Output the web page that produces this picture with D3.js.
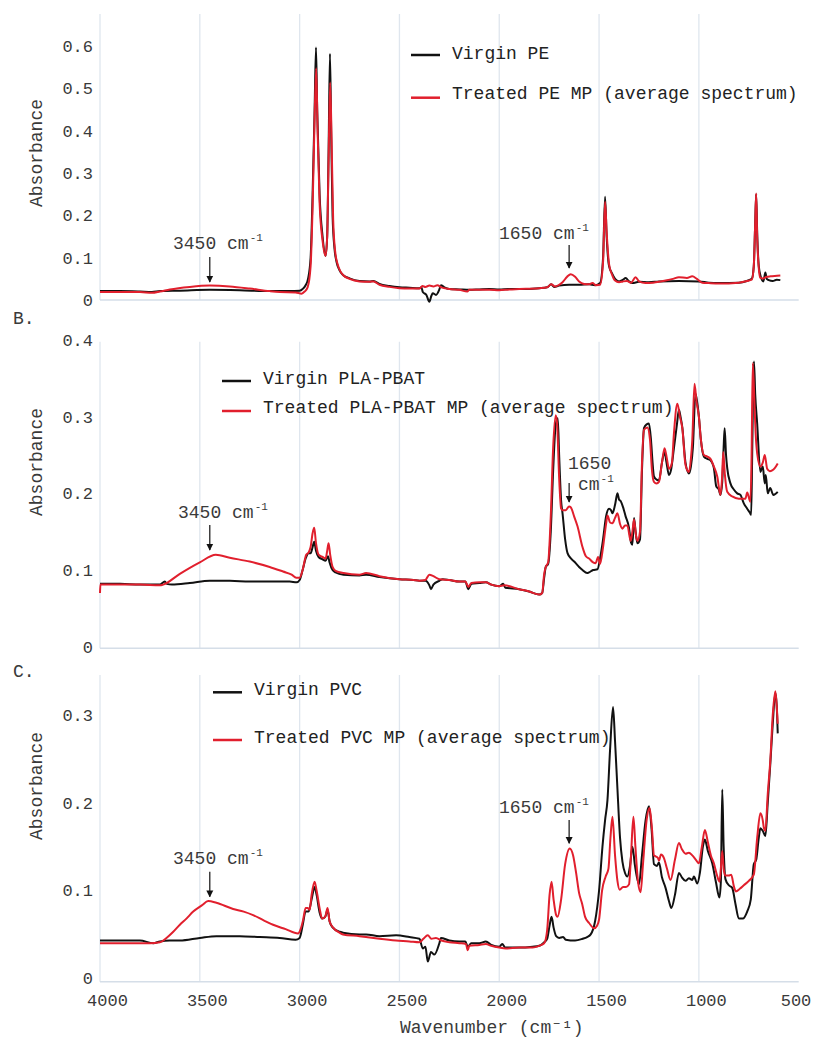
<!DOCTYPE html>
<html><head><meta charset="utf-8">
<script src="https://cdn.jsdelivr.net/npm/d3@7"></script>
<style>
html,body{margin:0;padding:0;background:#fff;}
svg{display:block;}
text{font-family:'Liberation Mono','Courier New',monospace;}
</style></head>
<body>
<svg id="chart" width="813" height="1039"></svg>
<script>
// ---------------- DATA ----------------
const xTicks = [4000, 3500, 3000, 2500, 2000, 1500, 1000, 500];
const gridTicks = [4000, 3500, 3000, 2500, 2000, 1500, 1000];
const yTicksA = [0, 0.1, 0.2, 0.3, 0.4, 0.5, 0.6];
const yTicksB = [0, 0.1, 0.2, 0.3, 0.4];
const yTicksC = [0, 0.1, 0.2, 0.3];

const legendA = ["Virgin PE", "Treated PE MP (average spectrum)"];
const legendB = ["Virgin PLA-PBAT", "Treated PLA-PBAT MP (average spectrum)"];
const legendC = ["Virgin PVC", "Treated PVC MP (average spectrum)"];

// annotated bands [wavenumber, absorbance at arrow tip]
const annotA = [[3450, 0.034], [1650, 0.061]];
const annotB = [[3450, 0.120], [1650, 0.183]];
const annotC = [[3450, 0.088], [1650, 0.148]];

// [wavenumber (cm-1), absorbance]
const peVirgin = [[4000,0.021],[3900,0.021],[3800,0.020],[3740,0.019],[3700,0.021],[3600,0.022],[3450,0.024],[3300,0.023],[3150,0.021],[3050,0.021],[3000,0.022],[2985,0.026],[2970,0.035],[2958,0.050],[2945,0.100],[2935,0.250],[2925,0.450],[2918,0.597],[2912,0.450],[2900,0.250],[2885,0.150],[2870,0.104],[2862,0.150],[2855,0.350],[2848,0.582],[2842,0.400],[2835,0.200],[2825,0.120],[2815,0.090],[2800,0.070],[2785,0.060],[2750,0.051],[2700,0.045],[2650,0.044],[2630,0.045],[2600,0.038],[2550,0.033],[2500,0.030],[2450,0.029],[2400,0.028],[2390,0.030],[2383,0.019],[2365,0.012],[2350,-0.004],[2340,0.010],[2333,0.016],[2317,0.012],[2300,0.025],[2292,0.035],[2275,0.030],[2250,0.026],[2200,0.025],[2150,0.024],[2100,0.025],[2050,0.026],[2000,0.025],[1950,0.026],[1900,0.026],[1800,0.028],[1760,0.030],[1740,0.037],[1725,0.031],[1700,0.034],[1650,0.036],[1600,0.036],[1550,0.037],[1520,0.035],[1495,0.040],[1480,0.100],[1470,0.244],[1462,0.150],[1450,0.080],[1435,0.063],[1420,0.050],[1400,0.044],[1380,0.048],[1367,0.052],[1350,0.044],[1333,0.040],[1300,0.043],[1250,0.042],[1200,0.044],[1100,0.045],[1000,0.044],[950,0.041],[900,0.040],[800,0.041],[760,0.045],[735,0.050],[725,0.080],[718,0.180],[713,0.250],[708,0.160],[700,0.080],[690,0.055],[677,0.044],[667,0.065],[660,0.050],[650,0.047],[630,0.045],[610,0.048],[592,0.047]];

const peTreated = [[4000,0.019],[3900,0.019],[3800,0.019],[3740,0.017],[3700,0.020],[3650,0.025],[3550,0.031],[3450,0.034],[3350,0.032],[3250,0.027],[3150,0.021],[3100,0.019],[3020,0.018],[2990,0.015],[2975,0.020],[2960,0.030],[2945,0.080],[2935,0.220],[2925,0.430],[2917,0.548],[2910,0.400],[2900,0.230],[2885,0.140],[2870,0.104],[2862,0.150],[2855,0.330],[2847,0.514],[2840,0.380],[2832,0.190],[2822,0.115],[2810,0.085],[2795,0.067],[2780,0.058],[2750,0.050],[2700,0.044],[2650,0.043],[2630,0.044],[2600,0.036],[2550,0.031],[2500,0.028],[2450,0.027],[2400,0.027],[2385,0.033],[2370,0.031],[2350,0.034],[2330,0.032],[2310,0.035],[2290,0.030],[2250,0.026],[2200,0.024],[2160,0.020],[2150,0.024],[2100,0.024],[2050,0.024],[2000,0.023],[1950,0.025],[1900,0.026],[1800,0.028],[1760,0.030],[1740,0.037],[1720,0.032],[1700,0.036],[1683,0.042],[1660,0.055],[1642,0.061],[1620,0.055],[1600,0.044],[1575,0.038],[1550,0.037],[1533,0.040],[1515,0.035],[1495,0.036],[1480,0.090],[1470,0.232],[1462,0.160],[1450,0.085],[1435,0.060],[1420,0.046],[1400,0.042],[1380,0.044],[1360,0.045],[1340,0.041],[1317,0.054],[1300,0.044],[1267,0.040],[1230,0.041],[1200,0.043],[1167,0.046],[1130,0.050],[1100,0.054],[1060,0.052],[1033,0.056],[1010,0.050],[983,0.041],[950,0.040],[900,0.039],[800,0.041],[760,0.045],[735,0.048],[725,0.080],[718,0.180],[713,0.252],[708,0.150],[700,0.075],[693,0.053],[680,0.051],[660,0.055],[640,0.056],[620,0.057],[592,0.058]];

const plaVirgin = [[4000,0.082],[3900,0.082],[3800,0.081],[3700,0.081],[3675,0.085],[3665,0.082],[3640,0.081],[3550,0.083],[3450,0.086],[3350,0.086],[3250,0.085],[3150,0.085],[3050,0.085],[3015,0.084],[3000,0.087],[2985,0.100],[2970,0.115],[2955,0.122],[2945,0.122],[2935,0.130],[2927,0.137],[2918,0.125],[2905,0.117],[2885,0.114],[2870,0.112],[2858,0.118],[2850,0.110],[2835,0.100],[2820,0.097],[2780,0.094],[2700,0.093],[2667,0.094],[2600,0.091],[2500,0.088],[2430,0.087],[2400,0.086],[2370,0.086],[2350,0.080],[2342,0.075],[2330,0.081],[2300,0.086],[2283,0.088],[2250,0.087],[2200,0.085],[2170,0.085],[2155,0.075],[2140,0.082],[2100,0.083],[2067,0.084],[2040,0.081],[2000,0.079],[1980,0.082],[1970,0.077],[1900,0.075],[1850,0.072],[1800,0.068],[1785,0.070],[1775,0.090],[1767,0.104],[1755,0.108],[1742,0.150],[1730,0.230],[1717,0.290],[1707,0.298],[1700,0.250],[1690,0.190],[1683,0.174],[1670,0.140],[1658,0.122],[1640,0.115],[1617,0.109],[1600,0.104],[1583,0.100],[1560,0.096],[1550,0.097],[1530,0.100],[1508,0.101],[1495,0.115],[1480,0.140],[1465,0.170],[1450,0.180],[1440,0.178],[1433,0.174],[1420,0.185],[1408,0.200],[1400,0.192],[1392,0.190],[1380,0.182],[1367,0.170],[1350,0.155],[1340,0.136],[1333,0.133],[1325,0.168],[1317,0.150],[1308,0.135],[1295,0.140],[1285,0.230],[1275,0.285],[1262,0.290],[1250,0.291],[1240,0.270],[1232,0.240],[1225,0.222],[1212,0.218],[1200,0.217],[1185,0.240],[1172,0.254],[1162,0.240],[1150,0.224],[1140,0.230],[1125,0.259],[1110,0.290],[1100,0.309],[1092,0.300],[1083,0.286],[1067,0.240],[1050,0.226],[1040,0.235],[1030,0.260],[1017,0.330],[1008,0.318],[1000,0.300],[990,0.270],[975,0.248],[958,0.245],[942,0.243],[925,0.233],[913,0.209],[900,0.205],[892,0.198],[883,0.215],[876,0.260],[871,0.285],[864,0.250],[858,0.233],[842,0.213],[825,0.205],[808,0.200],[792,0.198],[775,0.187],[758,0.180],[745,0.175],[738,0.172],[733,0.250],[728,0.340],[724,0.372],[718,0.330],[708,0.291],[692,0.228],[680,0.235],[670,0.213],[665,0.224],[655,0.200],[643,0.207],[627,0.198],[605,0.202]];

const plaTreated = [[4000,0.070],[3998,0.081],[3900,0.081],[3800,0.081],[3700,0.080],[3683,0.081],[3600,0.095],[3500,0.110],[3420,0.120],[3350,0.116],[3250,0.111],[3150,0.104],[3083,0.098],[3040,0.094],[3017,0.090],[3000,0.090],[2985,0.100],[2967,0.120],[2955,0.123],[2945,0.130],[2935,0.148],[2927,0.155],[2918,0.135],[2905,0.120],[2885,0.117],[2870,0.115],[2862,0.125],[2855,0.135],[2847,0.120],[2835,0.104],[2820,0.099],[2780,0.096],[2700,0.094],[2667,0.096],[2600,0.092],[2500,0.088],[2430,0.087],[2400,0.086],[2370,0.087],[2350,0.094],[2330,0.092],[2300,0.088],[2250,0.087],[2200,0.085],[2170,0.085],[2155,0.078],[2140,0.083],[2100,0.084],[2067,0.084],[2040,0.081],[2000,0.079],[1975,0.080],[1900,0.075],[1850,0.072],[1800,0.068],[1785,0.070],[1775,0.095],[1767,0.104],[1755,0.110],[1742,0.170],[1730,0.260],[1717,0.302],[1710,0.290],[1700,0.220],[1690,0.180],[1683,0.178],[1667,0.178],[1650,0.183],[1642,0.182],[1625,0.170],[1608,0.157],[1583,0.130],[1566,0.118],[1550,0.115],[1530,0.110],[1517,0.109],[1505,0.117],[1495,0.108],[1480,0.130],[1465,0.160],[1458,0.171],[1445,0.162],[1433,0.161],[1420,0.168],[1408,0.174],[1395,0.160],[1383,0.154],[1370,0.158],[1358,0.158],[1342,0.138],[1333,0.150],[1325,0.166],[1315,0.145],[1308,0.138],[1295,0.150],[1285,0.240],[1275,0.283],[1258,0.286],[1245,0.270],[1235,0.230],[1225,0.215],[1212,0.213],[1200,0.215],[1185,0.240],[1172,0.259],[1160,0.245],[1150,0.232],[1135,0.240],[1125,0.278],[1108,0.317],[1095,0.300],[1083,0.285],[1067,0.237],[1050,0.228],[1040,0.245],[1033,0.270],[1022,0.343],[1012,0.320],[1000,0.300],[990,0.270],[975,0.250],[958,0.248],[942,0.245],[925,0.235],[908,0.222],[892,0.198],[884,0.220],[878,0.254],[870,0.225],[858,0.202],[833,0.196],[800,0.193],[767,0.193],[758,0.201],[742,0.189],[736,0.250],[730,0.370],[722,0.320],[716,0.280],[708,0.252],[692,0.235],[680,0.240],[670,0.250],[658,0.232],[645,0.229],[633,0.230],[620,0.233],[605,0.239]];

const pvcVirgin = [[4000,0.043],[3900,0.043],[3800,0.043],[3733,0.040],[3700,0.042],[3650,0.043],[3600,0.043],[3500,0.046],[3417,0.048],[3300,0.048],[3200,0.047],[3100,0.046],[3020,0.044],[3000,0.046],[2985,0.060],[2970,0.076],[2955,0.076],[2940,0.090],[2925,0.104],[2915,0.095],[2900,0.075],[2887,0.068],[2872,0.070],[2860,0.078],[2850,0.065],[2835,0.058],[2800,0.053],[2783,0.052],[2700,0.050],[2667,0.050],[2600,0.048],[2517,0.049],[2450,0.047],[2400,0.045],[2383,0.034],[2370,0.036],[2358,0.019],[2342,0.030],[2325,0.027],[2300,0.040],[2292,0.046],[2250,0.043],[2200,0.042],[2170,0.042],[2158,0.036],[2140,0.040],[2100,0.040],[2067,0.042],[2040,0.038],[2000,0.036],[1985,0.039],[1970,0.035],[1900,0.035],[1833,0.036],[1800,0.037],[1780,0.040],[1760,0.045],[1748,0.060],[1738,0.070],[1728,0.058],[1715,0.048],[1700,0.046],[1680,0.047],[1667,0.044],[1620,0.043],[1583,0.045],[1560,0.047],[1542,0.050],[1520,0.065],[1500,0.100],[1483,0.150],[1470,0.180],[1458,0.203],[1445,0.260],[1430,0.309],[1420,0.270],[1408,0.216],[1395,0.160],[1383,0.133],[1370,0.120],[1358,0.116],[1345,0.128],[1333,0.150],[1320,0.128],[1300,0.107],[1285,0.140],[1267,0.180],[1250,0.196],[1237,0.170],[1225,0.130],[1210,0.128],[1200,0.132],[1185,0.115],[1167,0.103],[1150,0.088],[1138,0.080],[1120,0.095],[1100,0.120],[1085,0.115],[1067,0.111],[1050,0.114],[1033,0.112],[1025,0.116],[1008,0.108],[995,0.120],[980,0.150],[970,0.158],[955,0.145],[933,0.131],[915,0.110],[897,0.092],[890,0.110],[883,0.215],[876,0.150],[867,0.113],[850,0.106],[833,0.103],[817,0.085],[800,0.068],[780,0.068],[758,0.076],[740,0.090],[725,0.130],[713,0.135],[700,0.160],[692,0.171],[680,0.168],[667,0.162],[655,0.200],[642,0.245],[630,0.290],[617,0.325],[610,0.310],[605,0.279]];

const pvcTreated = [[4000,0.040],[3900,0.040],[3800,0.040],[3750,0.040],[3700,0.041],[3667,0.046],[3633,0.053],[3600,0.061],[3567,0.068],[3533,0.076],[3490,0.083],[3458,0.088],[3417,0.086],[3333,0.079],[3280,0.076],[3233,0.072],[3180,0.066],[3133,0.061],[3070,0.056],[3008,0.051],[2995,0.056],[2983,0.066],[2970,0.080],[2960,0.080],[2950,0.078],[2940,0.095],[2925,0.110],[2915,0.100],[2900,0.080],[2887,0.068],[2872,0.070],[2860,0.080],[2850,0.065],[2833,0.058],[2800,0.052],[2783,0.050],[2700,0.048],[2667,0.047],[2600,0.045],[2517,0.043],[2450,0.042],[2400,0.041],[2380,0.045],[2358,0.049],[2340,0.045],[2317,0.046],[2290,0.043],[2250,0.041],[2200,0.040],[2167,0.039],[2158,0.032],[2150,0.037],[2100,0.038],[2067,0.039],[2040,0.037],[2000,0.035],[1967,0.034],[1900,0.035],[1833,0.035],[1800,0.037],[1775,0.040],[1760,0.055],[1748,0.095],[1738,0.110],[1728,0.090],[1715,0.072],[1708,0.070],[1690,0.090],[1670,0.130],[1647,0.148],[1630,0.140],[1615,0.120],[1600,0.097],[1585,0.085],[1570,0.070],[1550,0.063],[1525,0.057],[1510,0.060],[1500,0.067],[1485,0.100],[1467,0.116],[1453,0.125],[1443,0.160],[1433,0.184],[1420,0.140],[1408,0.111],[1397,0.101],[1380,0.104],[1365,0.104],[1350,0.107],[1340,0.140],[1328,0.184],[1318,0.150],[1305,0.110],[1292,0.098],[1280,0.130],[1262,0.180],[1247,0.194],[1235,0.170],[1225,0.140],[1217,0.139],[1205,0.137],[1200,0.134],[1190,0.141],[1175,0.137],[1160,0.125],[1142,0.112],[1120,0.135],[1100,0.154],[1085,0.147],[1067,0.142],[1050,0.143],[1033,0.140],[1015,0.135],[1000,0.131],[985,0.150],[970,0.169],[955,0.155],[940,0.140],[925,0.131],[910,0.118],[897,0.110],[890,0.125],[883,0.145],[876,0.125],[867,0.117],[850,0.117],[838,0.118],[825,0.105],[815,0.099],[795,0.102],[775,0.106],[750,0.111],[725,0.118],[708,0.160],[692,0.188],[680,0.180],[675,0.172],[667,0.168],[655,0.210],[642,0.249],[630,0.300],[617,0.327],[610,0.310],[605,0.290]];

// ---------------- LAYOUT ----------------
const W = 813, H = 1039;
const BLACK = "#111", RED = "#e11f2d", GRID = "#dfe6ee", TXT = "#3a3a3a";
const svg = d3.select("#chart");
const x = d3.scaleLinear().domain([4000, 500]).range([100, 798.7]);

const defs = svg.append("defs");
defs.append("marker").attr("id", "ah").attr("viewBox", "0 0 10 10")
  .attr("refX", 9).attr("refY", 5).attr("markerWidth", 7).attr("markerHeight", 9)
  .attr("markerUnits", "userSpaceOnUse").attr("orient", "auto")
  .append("path").attr("d", "M0,0 L10,5 L0,10 Z").attr("fill", "#111");

const panels = [
  {name: "", zero: 300, ppu: 423, axisY: 300, top: 14, ticks: yTicksA, black: peVirgin, red: peTreated,
   legend: legendA, legX: 411, legY: [55, 97.7], legTxtY: [59, 99.3], titleY: 153,
   annot: annotA, annotTxt: [[173, 249], [499, 239.3]], arrow: [[257, 282], [245, 268]], split1650: false},
  {name: "B.", nameY: 324, zero: 646.7, ppu: 766.7, axisY: 648.3, top: 341.7, ticks: yTicksB, black: plaVirgin, red: plaTreated,
   legend: legendB, legX: 222, legY: [381, 411], legTxtY: [384, 412.7], titleY: 462,
   annot: annotB, annotTxt: [[178, 518.3], [568, 469.3]], arrow: [[525, 550], [483, 502]], split1650: true},
  {name: "C.", nameY: 677, zero: 978.3, ppu: 877.8, axisY: 981.7, top: 675, ticks: yTicksC, black: pvcVirgin, red: pvcTreated,
   legend: legendC, legX: 213, legY: [692.3, 740], legTxtY: [695, 742.7], titleY: 786,
   annot: annotC, annotTxt: [[173, 864], [499, 813.3]], arrow: [[871.7, 896.7], [820, 843.3]], split1650: false}
];

function addUnit(t, big) {
  t.append("tspan").text(big);
  t.append("tspan").text("cm");
  t.append("tspan").attr("font-size", 11).attr("dy", -8).attr("dx", 1).text("-1");
}

panels.forEach((p, i) => {
  const y = d3.scaleLinear()
    .domain([(p.zero - p.axisY) / p.ppu, (p.zero - p.top) / p.ppu])
    .range([p.axisY, p.top]);
  const g = svg.append("g");

  // gridlines
  g.selectAll("line.grid").data(gridTicks).join("line")
    .attr("x1", d => x(d)).attr("x2", d => x(d))
    .attr("y1", p.top).attr("y2", p.axisY)
    .attr("stroke", GRID).attr("stroke-width", 1.3);
  // bottom axis line
  g.append("line").attr("x1", x(4000)).attr("x2", x(500))
    .attr("y1", p.axisY).attr("y2", p.axisY)
    .attr("stroke", "#d5dee8").attr("stroke-width", 1.5);

  // y tick labels
  g.selectAll("text.yt").data(p.ticks).join("text")
    .attr("x", 93).attr("y", d => y(d))
    .attr("dy", "0.35em").attr("text-anchor", "end")
    .attr("font-size", 17).attr("fill", TXT)
    .text(d => d === 0 ? "0" : d3.format(".1f")(d));

  // y title
  g.append("text").attr("transform", `translate(42,${p.titleY}) rotate(-90)`)
    .attr("text-anchor", "middle").attr("font-size", 18).attr("fill", TXT)
    .text("Absorbance");

  if (p.name) g.append("text").attr("x", 13).attr("y", p.nameY)
    .attr("font-size", 18).attr("fill", TXT).text(p.name);

  // lines
  const line = d3.line().x(d => x(d[0])).y(d => y(d[1])).curve(d3.curveMonotoneX);
  g.append("path").datum(p.black).attr("d", line).attr("fill", "none")
    .attr("stroke", BLACK).attr("stroke-width", 2).attr("stroke-linejoin", "round");
  g.append("path").datum(p.red).attr("d", line).attr("fill", "none")
    .attr("stroke", RED).attr("stroke-width", 2).attr("stroke-linejoin", "round");

  // legend
  [BLACK, RED].forEach((c, k) => {
    g.append("line").attr("x1", p.legX).attr("x2", p.legX + 29)
      .attr("y1", p.legY[k]).attr("y2", p.legY[k])
      .attr("stroke", c).attr("stroke-width", 2.5);
    g.append("text").attr("x", p.legX + 41).attr("y", p.legTxtY[k])
      .attr("font-size", 18).attr("fill", "#222").text(p.legend[k]);
  });

  // annotations
  p.annot.forEach((a, k) => {
    const ax = x(a[0]);
    g.append("line").attr("x1", ax).attr("x2", ax)
      .attr("y1", p.arrow[k][0]).attr("y2", p.arrow[k][1])
      .attr("stroke", "#111").attr("stroke-width", 1.2)
      .attr("marker-end", "url(#ah)");
    const [tx, ty] = p.annotTxt[k];
    if (k === 1 && p.split1650) {
      g.append("text").attr("x", tx).attr("y", ty).attr("font-size", 18).attr("fill", TXT).text(String(a[0]));
      const t2 = g.append("text").attr("x", tx + 10).attr("y", ty + 21).attr("font-size", 18).attr("fill", TXT);
      t2.append("tspan").text("cm");
      t2.append("tspan").attr("font-size", 11).attr("dy", -8).attr("dx", 1).text("-1");
    } else {
      const t = g.append("text").attr("x", tx).attr("y", ty).attr("font-size", 18).attr("fill", TXT);
      addUnit(t, a[0] + " ");
    }
  });

  // x tick labels only on the last panel
  if (i === 2) {
    g.selectAll("text.xt").data(xTicks).join("text")
      .attr("x", d => Math.min(x(d) + 7.5, W - 17)).attr("y", 1006)
      .attr("text-anchor", "middle").attr("font-size", 17).attr("fill", TXT)
      .text(d => d);
    g.append("text").attr("x", 400).attr("y", 1033)
      .attr("font-size", 18).attr("fill", TXT).text("Wavenumber (cm⁻¹)");
  }
});
</script>
</body></html>
